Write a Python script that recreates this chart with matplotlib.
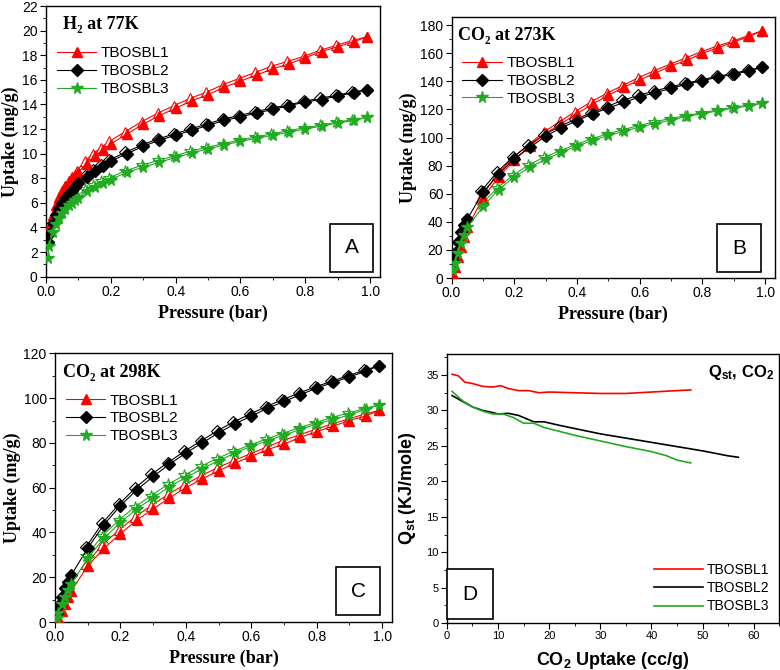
import matplotlib
matplotlib.use("Agg")
import matplotlib.pyplot as plt
from matplotlib.ticker import MultipleLocator

names = ["TBOSBL1", "TBOSBL2", "TBOSBL3"]
colors = ["#ff0000", "#000000", "#22aa22"]
markers = ["^", "D", "*"]
msizes = [7.5, 6.5, 8.5]

# ---- Panel A: H2 at 77K ----
pA = [0.005, 0.01, 0.02, 0.03, 0.04, 0.05, 0.06, 0.07, 0.08, 0.09, 0.1, 0.125, 0.15, 0.175, 0.2,
      0.25, 0.3, 0.35, 0.4, 0.45, 0.5, 0.55, 0.6, 0.65, 0.7, 0.75, 0.8, 0.85, 0.9, 0.95, 0.99]
A1 = [3.0, 4.0, 5.0, 5.8, 6.5, 7.0, 7.4, 7.8, 8.1, 8.3, 8.5, 9.2, 9.8, 10.3, 10.8,
      11.6, 12.4, 13.1, 13.7, 14.3, 14.8, 15.4, 15.9, 16.4, 16.9, 17.3, 17.8, 18.3, 18.7, 19.1, 19.5]
A2 = [2.8, 3.5, 4.4, 5.0, 5.5, 6.0, 6.4, 6.7, 7.0, 7.3, 7.6, 8.1, 8.6, 9.0, 9.4,
      10.0, 10.6, 11.1, 11.5, 11.9, 12.3, 12.7, 13.0, 13.3, 13.6, 13.9, 14.2, 14.4, 14.7, 14.95, 15.2]
A3 = [1.5, 2.5, 3.6, 4.3, 4.8, 5.2, 5.5, 5.8, 6.0, 6.2, 6.4, 7.0, 7.3, 7.6, 7.9,
      8.5, 8.9, 9.3, 9.7, 10.05, 10.4, 10.7, 11.0, 11.25, 11.5, 11.75, 12.0, 12.25, 12.5, 12.7, 12.95]
pA_des = [0.99, 0.945, 0.895, 0.845, 0.795, 0.745, 0.695, 0.645, 0.595, 0.545, 0.495, 0.445, 0.395, 0.345,
          0.295, 0.245, 0.195, 0.17, 0.145, 0.12, 0.095]
A1_des = [19.5, 19.2, 18.8, 18.4, 17.9, 17.5, 17.1, 16.6, 16.1, 15.6, 15.0, 14.5, 13.9, 13.3,
          12.6, 11.8, 11.0, 10.5, 10.0, 9.4, 8.6]
A2_des = [15.2, 15.0, 14.75, 14.5, 14.25, 13.95, 13.7, 13.4, 13.1, 12.8, 12.4, 12.0, 11.6, 11.2,
          10.7, 10.1, 9.5, 9.1, 8.7, 8.2, 7.7]
A3_des = [12.95, 12.75, 12.55, 12.3, 12.1, 11.85, 11.6, 11.35, 11.1, 10.8, 10.5, 10.2, 9.8, 9.45,
          9.05, 8.6, 8.05, 7.75, 7.45, 7.1, 6.5]

# ---- Panel B: CO2 at 273K ----
pB = [0.005, 0.01, 0.02, 0.03, 0.04, 0.05, 0.1, 0.15, 0.2, 0.25, 0.3, 0.35, 0.4, 0.45, 0.5,
      0.55, 0.6, 0.65, 0.7, 0.75, 0.8, 0.85, 0.9, 0.95, 0.99]
B1 = [3, 8, 15, 22, 29, 36, 57, 72, 84, 94, 103, 110, 117, 124, 130,
      136, 141, 146, 151, 155, 160, 164, 168, 172, 176]
B2 = [12, 18, 26, 33, 38, 42, 61, 74, 85, 93, 101, 107, 112, 117, 121,
      125, 129, 132, 135, 138, 140.5, 143, 145, 147.5, 150]
B3 = [6, 11, 18, 25, 31, 36, 51, 63, 72, 79, 84.5, 89.5, 94, 98, 101.5,
      104.5, 107.5, 110, 112.5, 115, 117, 119, 121, 122.5, 124.5]
pB_des = [0.99, 0.945, 0.895, 0.845, 0.795, 0.745, 0.695, 0.645, 0.595, 0.545, 0.495, 0.445,
          0.395, 0.345, 0.295, 0.245, 0.195, 0.145, 0.095]
B1_des = [176, 172.5, 168.5, 165, 161, 156.5, 152, 147.5, 142.5, 137, 131.5, 125.5,
          118.5, 111.5, 104, 95, 85.5, 73.5, 58]
B2_des = [150, 148, 145.5, 143.5, 141, 138.5, 136, 133, 130, 126.5, 122, 117.5,
          113, 108, 102, 94.5, 86, 75.5, 62]
B3_des = [124.5, 123, 121.5, 119.5, 117.5, 115.5, 113.5, 111, 108.5, 105.5, 102.5, 99,
          95, 90.5, 86, 80.5, 73, 64, 52.5]

# ---- Panel C: CO2 at 298K ----
pC = pB
C1 = [0.5, 2, 5, 8, 11, 14, 25, 33, 39.5, 45.5, 50.5, 55.5, 60, 64, 67.5,
      71, 74, 77, 79.5, 82.5, 85, 87.5, 90, 92, 94.5]
C2 = [4, 7, 11, 15, 18, 21, 33, 43.5, 52, 59, 65, 70.5, 75.5, 80, 84.5,
      88.5, 92, 95.5, 98.5, 101.5, 104.5, 107, 109.5, 112, 114.5]
C3 = [2, 4, 8, 11, 14.5, 17, 28.5, 37.5, 44.5, 50.5, 55.5, 60.5, 64.5, 68.5, 72,
      75.5, 78.5, 81, 83.5, 86, 88.5, 90.5, 92.5, 95, 97]
pC_des = pB_des
C1_des = [94.5, 92.8, 90.6, 88.4, 86, 83.5, 81, 78, 75, 72, 68.8, 65.2,
          61.2, 57, 52, 47, 41, 34.5, 26]
C2_des = [114.5, 112.4, 110, 107.5, 105, 102.2, 99.3, 96.2, 92.8, 89.3, 85.3, 80.8,
          76.2, 71.2, 66, 59.8, 52.5, 44.2, 33.5]
C3_des = [97, 95.3, 93.3, 91.3, 89, 86.7, 84.2, 81.7, 79, 76.2, 73, 69.5,
          65.5, 61.5, 56.5, 51.5, 45.5, 38.5, 29.5]

# ---- Panel D: Qst CO2 ----
D1x = [1, 2.2, 3.5, 5, 7, 9, 10.5, 12, 14, 16, 18, 20, 25, 30, 35, 40, 45, 47.7]
D1y = [35.1, 34.9, 34.0, 33.8, 33.4, 33.3, 33.5, 33.1, 32.8, 32.8, 32.5, 32.6, 32.5, 32.4, 32.4, 32.6, 32.8, 32.9]
D2x = [1, 3, 5, 7, 9, 10, 12, 14, 17, 19, 22, 30, 40, 50, 55, 57]
D2y = [32.1, 31.3, 30.5, 30.0, 29.7, 29.5, 29.6, 29.3, 28.4, 28.4, 27.9, 26.7, 25.5, 24.3, 23.6, 23.4]
D3x = [1, 3, 5, 7, 9, 11, 13, 15, 17, 19, 25, 30, 35, 40, 43, 45, 47.7]
D3y = [32.7, 31.4, 30.5, 29.9, 29.5, 29.5, 29.0, 28.2, 28.2, 27.6, 26.5, 25.7, 24.9, 24.2, 23.6, 23.0, 22.6]

serif = ["Liberation Serif", "DejaVu Serif"]
sans = "Liberation Sans"
plt.rcParams["font.family"] = sans
plt.rcParams["mathtext.fontset"] = "custom"
plt.rcParams["mathtext.rm"] = "Liberation Sans"
plt.rcParams["mathtext.bf"] = "Liberation Sans:bold"
plt.rcParams["mathtext.it"] = "Liberation Sans:italic"

fig = plt.figure(figsize=(7.8, 6.7), dpi=100)


def style(ax, xmaj, xmin, ymaj, ymin, lsize=10):
    ax.xaxis.set_major_locator(MultipleLocator(xmaj))
    ax.xaxis.set_minor_locator(MultipleLocator(xmin))
    ax.yaxis.set_major_locator(MultipleLocator(ymaj))
    ax.yaxis.set_minor_locator(MultipleLocator(ymin))
    ax.tick_params(which="major", direction="out", length=4, labelsize=lsize, top=False,
                   right=False, pad=2)
    ax.tick_params(which="minor", direction="out", length=2, top=False, right=False)
    for s in ax.spines.values():
        s.set_linewidth(1.0)


def letter_box(ax, letter, x, y):
    ax.text(x, y, letter, transform=ax.transAxes, ha="center", va="center",
            fontsize=15, family=sans, zorder=5,
            bbox=dict(boxstyle="square,pad=0.7", fc="white", ec="black", lw=1.2))


def iso_panel(rect, p, ys, pdes, ydes, title, tx, ylim, ymaj, ymin, letter, bx, by):
    ax = fig.add_axes(rect)
    handles = []
    for y, yd, c, m, ms, n in zip(ys, ydes, colors, markers, msizes, names):
        ax.plot(pdes, yd, color=c, lw=0.8, marker=m, ms=ms, mfc="white", mec=c, mew=0.8, zorder=2)
        h, = ax.plot(p, y, color=c, lw=0.8, marker=m, ms=ms, mfc=c, mec=c, zorder=3, label=n)
        handles.append(h)
    ax.set_xlim(0, 1.03)
    ax.set_ylim(*ylim)
    style(ax, 0.2, 0.1, ymaj, ymin)
    ax.set_xlabel("Pressure (bar)", family=serif, fontweight="bold", fontsize=13, labelpad=4)
    ax.set_ylabel("Uptake (mg/g)", family=serif, fontweight="bold", fontsize=13, labelpad=2)
    ax.text(tx, 0.93, title, transform=ax.transAxes, family=serif, fontweight="bold",
            fontsize=13, va="center")
    ax.legend(handles=handles, loc="upper left", bbox_to_anchor=(0.0, 0.89), frameon=False,
              fontsize=11, handlelength=2.6, handletextpad=0.3, labelspacing=0.25,
              borderaxespad=0.3)
    letter_box(ax, letter, bx, by)
    return ax


iso_panel([0.059, 0.587, 0.428, 0.404], pA, [A1, A2, A3], pA_des, [A1_des, A2_des, A3_des],
          "H\u2082 at 77K", 0.05, (0, 22), 2, 1, "A", 0.916, 0.107)
iso_panel([0.579, 0.585, 0.414, 0.390], pB, [B1, B2, B3], pB_des, [B1_des, B2_des, B3_des],
          "CO\u2082 at 273K", 0.02, (0, 186), 20, 10, "B", 0.89, 0.115)
iso_panel([0.0705, 0.0716, 0.432, 0.401], pC, [C1, C2, C3], pC_des, [C1_des, C2_des, C3_des],
          "CO\u2082 at 298K", 0.025, (0, 120), 20, 10, "C", 0.90, 0.115)

# Panel D
axD = fig.add_axes([0.573, 0.070, 0.426, 0.402])
for x, y, c, n in zip([D1x, D2x, D3x], [D1y, D2y, D3y], colors, names):
    axD.plot(x, y, color=c, lw=1.2, label=n)
axD.set_xlim(0, 65)
axD.set_ylim(0, 38)
style(axD, 10, 5, 5, 2.5, lsize=8)
axD.set_xlabel(r"CO$_\mathbf{2}$ Uptake (cc/g)", fontweight="bold", fontsize=13, labelpad=6)
axD.set_ylabel(r"Q$_\mathbf{st}$ (KJ/mole)", fontweight="bold", fontsize=13, labelpad=6)
axD.text(0.985, 0.93, r"Q$_\mathbf{st}$, CO$_\mathbf{2}$", transform=axD.transAxes, ha="right",
         va="center", fontweight="bold", fontsize=12)
axD.legend(loc="lower right", frameon=False, fontsize=10, handlelength=3.5, handletextpad=0.3,
           labelspacing=0.3, borderaxespad=0.3)
axD.text(0.07, 0.108, "D", transform=axD.transAxes, ha="center", va="center", fontsize=15,
         zorder=5, bbox=dict(boxstyle="square,pad=0.75", fc="white", ec="black", lw=1.2))

fig.savefig("out.png", dpi=100)
